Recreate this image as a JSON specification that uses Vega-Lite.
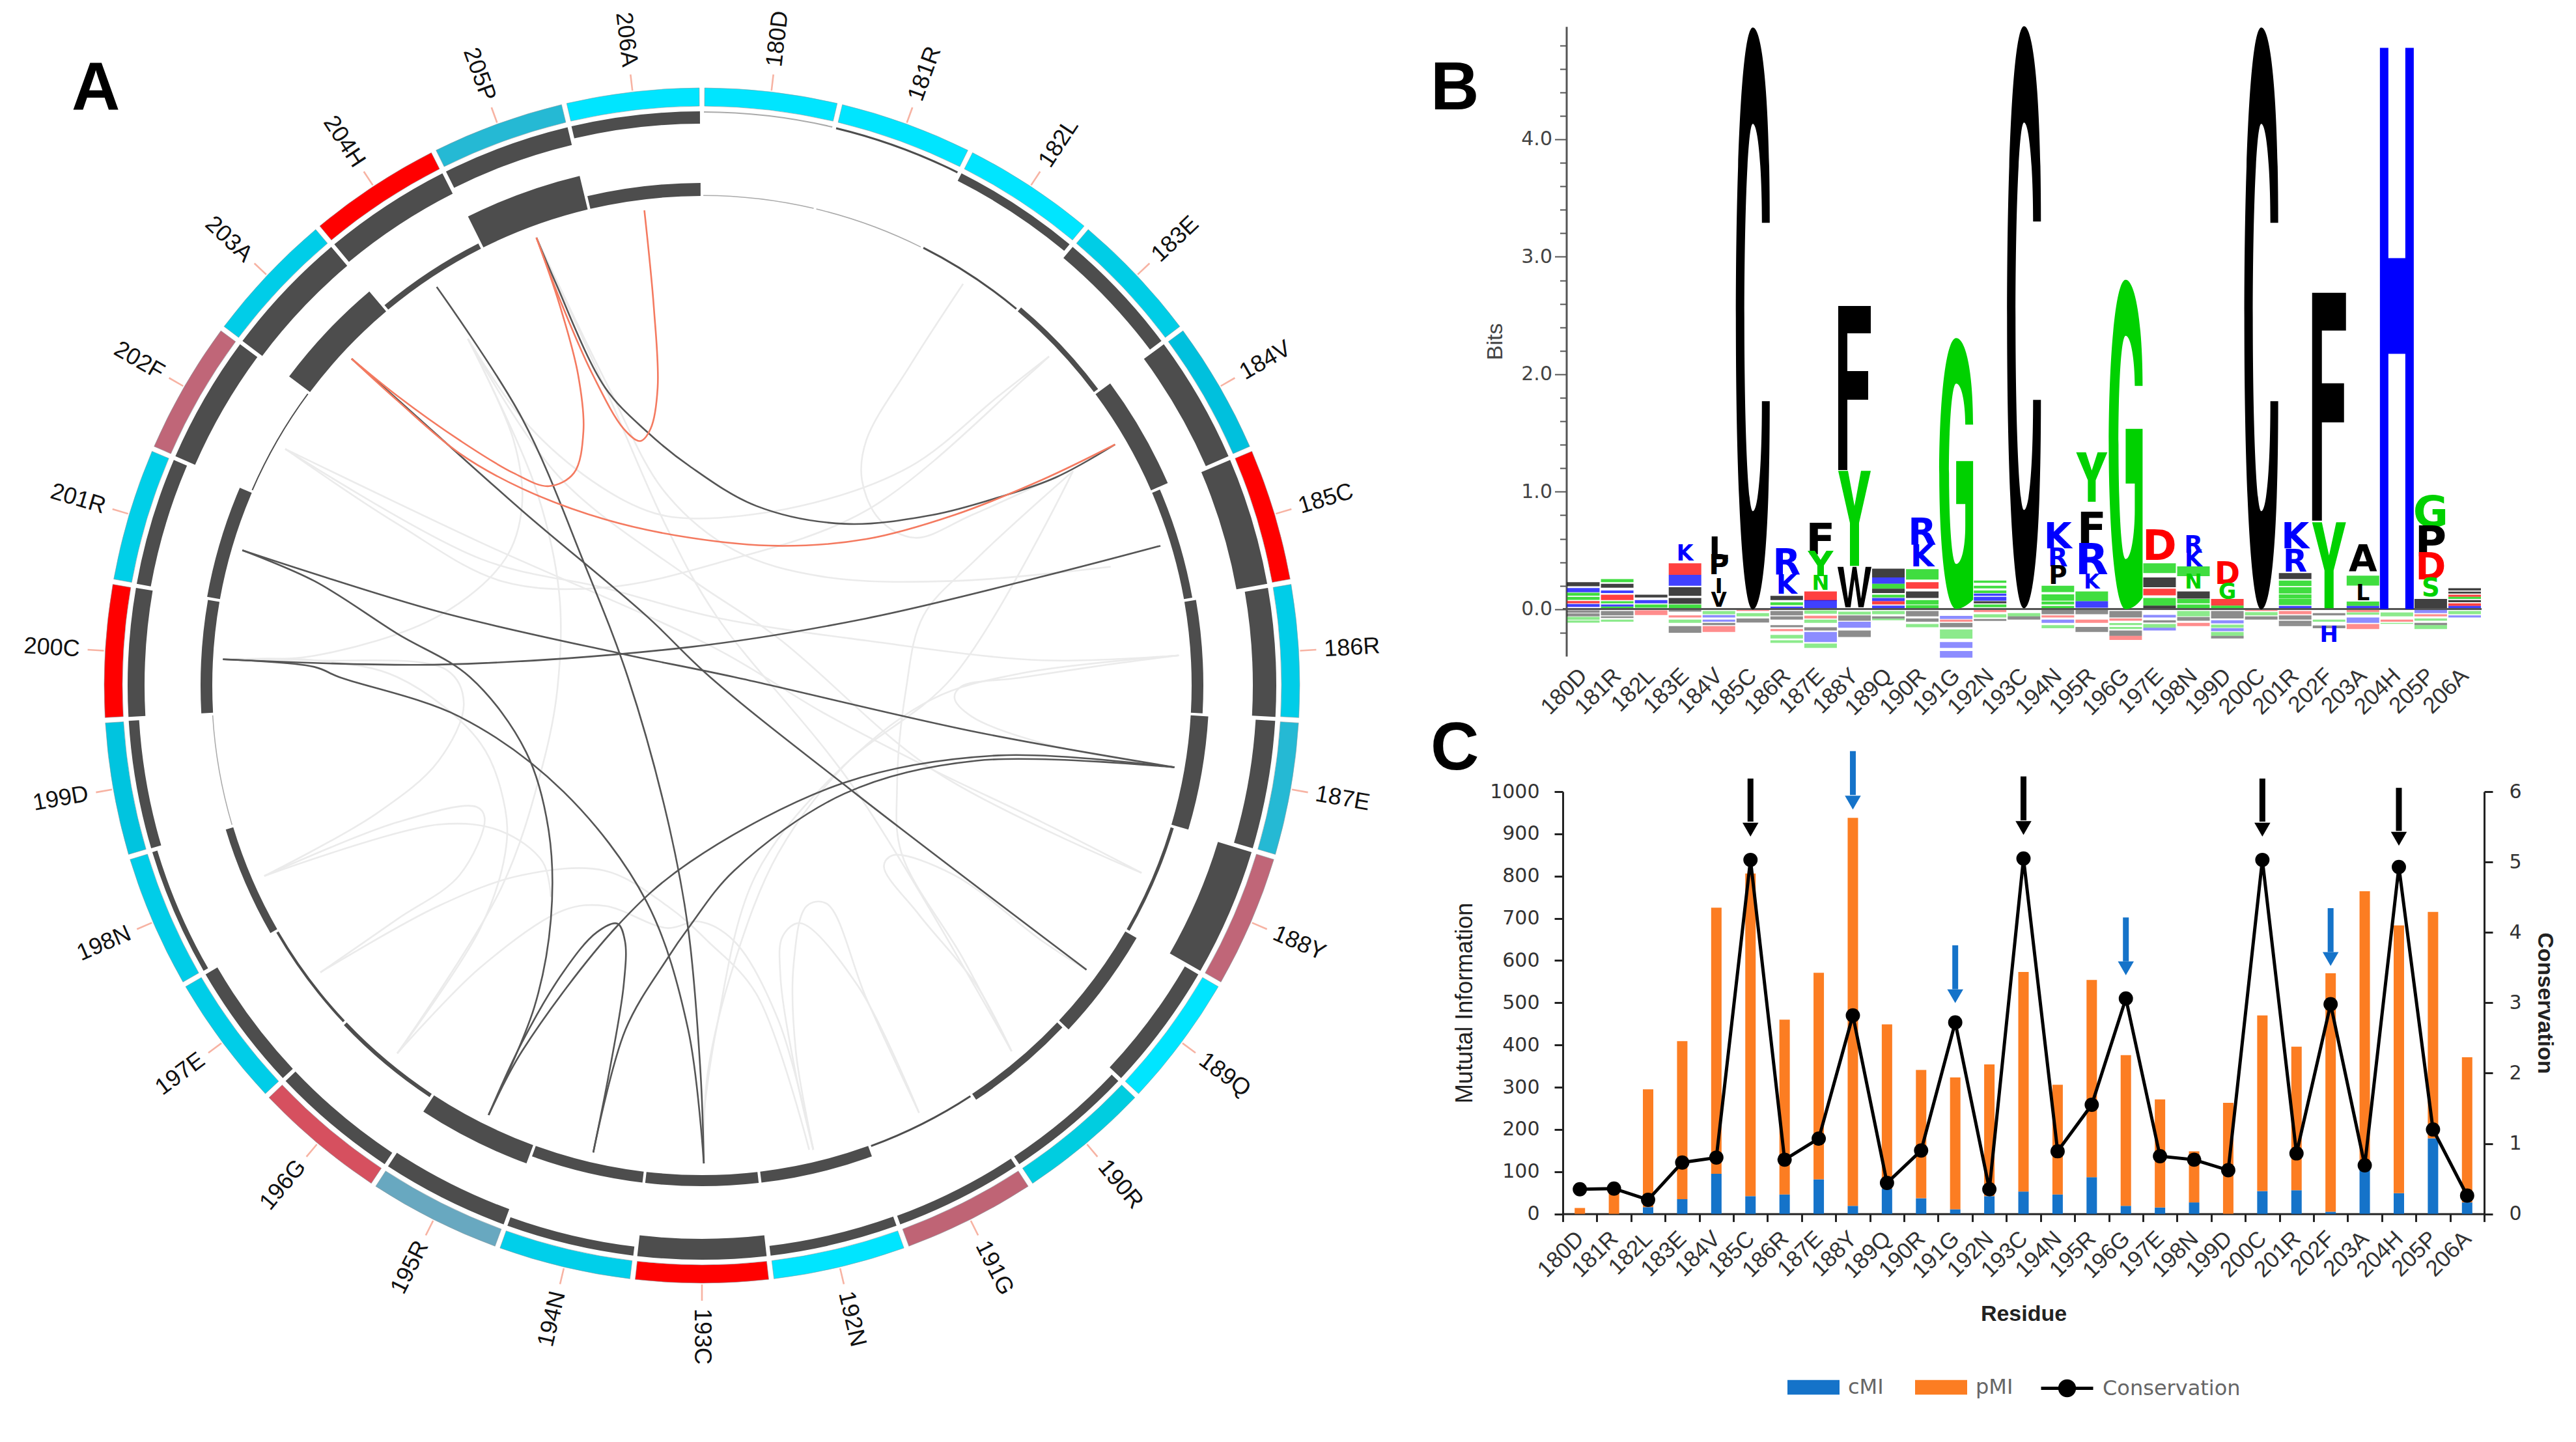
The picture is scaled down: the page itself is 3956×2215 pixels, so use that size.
{"$schema":"https://vega.github.io/schema/vega-lite/v6.json","padding":0,"background":"white","bounds":"flush","spacing":244,"resolve":{"scale":{"color":"independent","stroke":"independent","size":"independent","shape":"independent"},"legend":{"color":"independent","stroke":"independent"}},"config":{"view":{"stroke":null},"axis":{"grid":false,"labelOverlap":false,"labelBound":false,"labelFlush":false}},
"datasets":{
"rings":[{"res":"180D","idx":0,"r2":2,"r3":1.5},{"res":"181R","idx":1,"r2":3,"r3":1.5},{"res":"182L","idx":2,"r2":13,"r3":3},{"res":"183E","idx":3,"r2":22,"r3":8},{"res":"184V","idx":4,"r2":38,"r3":28},{"res":"185C","idx":5,"r2":48,"r3":13},{"res":"186R","idx":6,"r2":36,"r3":18},{"res":"187E","idx":7,"r2":30,"r3":27},{"res":"188Y","idx":8,"r2":54,"r3":5},{"res":"189Q","idx":9,"r2":24,"r3":20},{"res":"190R","idx":10,"r2":14,"r3":11},{"res":"191G","idx":11,"r2":14,"r3":3},{"res":"192N","idx":12,"r2":15,"r3":17},{"res":"193C","idx":13,"r2":32,"r3":17},{"res":"194N","idx":14,"r2":14,"r3":17},{"res":"195R","idx":15,"r2":25,"r3":30},{"res":"196G","idx":16,"r2":21,"r3":6},{"res":"197E","idx":17,"r2":21,"r3":4},{"res":"198N","idx":18,"r2":8,"r3":12},{"res":"199D","idx":19,"r2":16,"r3":1.5},{"res":"200C","idx":20,"r2":26,"r3":18},{"res":"201R","idx":21,"r2":22,"r3":20},{"res":"202F","idx":22,"r2":33,"r3":2},{"res":"203A","idx":23,"r2":38,"r3":40},{"res":"204H","idx":24,"r2":35,"r3":9},{"res":"205P","idx":25,"r2":28,"r3":53},{"res":"206A","idx":26,"r2":19,"r3":20}],
"chords":[
{"c":"G1","k":"g","i":0,"x":586.2,"y":172.8},{"c":"G1","k":"g","i":1,"x":554,"y":222.4},{"c":"G1","k":"g","i":2,"x":527.3,"y":268},{"c":"G1","k":"g","i":3,"x":524.6,"y":292},{"c":"G1","k":"g","i":4,"x":535.3,"y":316.2},{"c":"G1","k":"g","i":5,"x":556.8,"y":327.4},{"c":"G1","k":"g","i":6,"x":591.6,"y":313.5},{"c":"G1","k":"g","i":7,"x":650.5,"y":286.7},
{"c":"G2","k":"g","i":0,"x":638.5,"y":217},{"c":"G2","k":"g","i":1,"x":607.7,"y":241.2},{"c":"G2","k":"g","i":2,"x":554,"y":284},{"c":"G2","k":"g","i":3,"x":487.1,"y":308.1},{"c":"G2","k":"g","i":4,"x":420.1,"y":315.6},{"c":"G2","k":"g","i":5,"x":393.5,"y":310.8},{"c":"G2","k":"g","i":6,"x":355.6,"y":289.4},{"c":"G2","k":"g","i":7,"x":317.7,"y":254.6},{"c":"G2","k":"g","i":8,"x":284.8,"y":206.3},
{"c":"G3","k":"g","i":0,"x":173.6,"y":273.3},{"c":"G3","k":"g","i":1,"x":241.8,"y":318.9},{"c":"G3","k":"g","i":2,"x":305,"y":353.7},{"c":"G3","k":"g","i":3,"x":368.2,"y":357.7},{"c":"G3","k":"g","i":4,"x":436,"y":343},{"c":"G3","k":"g","i":5,"x":527.3,"y":310.8},{"c":"G3","k":"g","i":6,"x":623.7,"y":230.4},{"c":"G3","k":"g","i":7,"x":638.5,"y":217},
{"c":"G4","k":"g","i":0,"x":717.5,"y":399},{"c":"G4","k":"g","i":1,"x":634.5,"y":402},{"c":"G4","k":"g","i":2,"x":527.3,"y":390},{"c":"G4","k":"g","i":3,"x":436,"y":376},{"c":"G4","k":"g","i":4,"x":368,"y":358},{"c":"G4","k":"g","i":5,"x":292,"y":340},{"c":"G4","k":"g","i":6,"x":173.6,"y":273.3},
{"c":"G5","k":"g","i":0,"x":676,"y":345},{"c":"G5","k":"g","i":1,"x":580.9,"y":353.7},{"c":"G5","k":"g","i":2,"x":500.5,"y":351},{"c":"G5","k":"g","i":3,"x":447,"y":335},{"c":"G5","k":"g","i":4,"x":405,"y":300},{"c":"G5","k":"g","i":5,"x":370,"y":235},{"c":"G5","k":"g","i":6,"x":326.5,"y":144.7},
{"c":"G6","k":"g","i":0,"x":284.8,"y":206.3},{"c":"G6","k":"g","i":1,"x":312.6,"y":268},{"c":"G6","k":"g","i":2,"x":317.7,"y":308},{"c":"G6","k":"g","i":3,"x":307.5,"y":340.3},{"c":"G6","k":"g","i":4,"x":267,"y":375},{"c":"G6","k":"g","i":5,"x":191.3,"y":399.2},{"c":"G6","k":"g","i":6,"x":135.7,"y":401.4},
{"c":"G7","k":"g","i":0,"x":160.9,"y":533.3},{"c":"G7","k":"g","i":1,"x":229.2,"y":495.3},{"c":"G7","k":"g","i":2,"x":267,"y":463.1},{"c":"G7","k":"g","i":3,"x":282.3,"y":428.3},{"c":"G7","k":"g","i":4,"x":272,"y":408},{"c":"G7","k":"g","i":5,"x":191.3,"y":402},{"c":"G7","k":"g","i":6,"x":135.7,"y":401.4},
{"c":"G8","k":"g","i":0,"x":160.9,"y":533.3},{"c":"G8","k":"g","i":1,"x":241.8,"y":500.6},{"c":"G8","k":"g","i":2,"x":289.9,"y":491.2},{"c":"G8","k":"g","i":3,"x":295,"y":498},{"c":"G8","k":"g","i":4,"x":279.7,"y":532.8},{"c":"G8","k":"g","i":5,"x":241.8,"y":559.6},{"c":"G8","k":"g","i":6,"x":195,"y":592},
{"c":"G9","k":"g","i":0,"x":160.9,"y":533.3},{"c":"G9","k":"g","i":1,"x":267,"y":502},{"c":"G9","k":"g","i":2,"x":305,"y":506},{"c":"G9","k":"g","i":3,"x":330.3,"y":524.7},{"c":"G9","k":"g","i":4,"x":335.3,"y":546},
{"c":"G10","k":"g","i":0,"x":195,"y":592},{"c":"G10","k":"g","i":1,"x":267,"y":551.5},{"c":"G10","k":"g","i":2,"x":317.7,"y":532.8},{"c":"G10","k":"g","i":3,"x":368.2,"y":530.1},{"c":"G10","k":"g","i":4,"x":406.1,"y":551.5},{"c":"G10","k":"g","i":5,"x":430.8,"y":573},{"c":"G10","k":"g","i":6,"x":460.3,"y":605},{"c":"G10","k":"g","i":7,"x":492.5,"y":700},
{"c":"G11","k":"g","i":0,"x":241.8,"y":641.3},{"c":"G11","k":"g","i":1,"x":292.4,"y":589},{"c":"G11","k":"g","i":2,"x":343,"y":554.2},{"c":"G11","k":"g","i":3,"x":368.2,"y":551.5},{"c":"G11","k":"g","i":4,"x":406,"y":565},{"c":"G11","k":"g","i":5,"x":425.5,"y":561},{"c":"G11","k":"g","i":6,"x":446.9,"y":573},{"c":"G11","k":"g","i":7,"x":473.7,"y":621},{"c":"G11","k":"g","i":8,"x":495,"y":700},
{"c":"G12","k":"g","i":0,"x":241.8,"y":641.3},{"c":"G12","k":"g","i":1,"x":292.4,"y":565},{"c":"G12","k":"g","i":2,"x":307.5,"y":519.4},{"c":"G12","k":"g","i":3,"x":307.5,"y":492.6},{"c":"G12","k":"g","i":4,"x":292.4,"y":452.4},{"c":"G12","k":"g","i":5,"x":241.8,"y":412.2},{"c":"G12","k":"g","i":6,"x":191.3,"y":402},{"c":"G12","k":"g","i":7,"x":135.7,"y":401.4},
{"c":"G13","k":"g","i":0,"x":284.8,"y":206.3},{"c":"G13","k":"g","i":1,"x":325.2,"y":294.7},{"c":"G13","k":"g","i":2,"x":340.4,"y":361.7},{"c":"G13","k":"g","i":3,"x":339.2,"y":420},{"c":"G13","k":"g","i":4,"x":330.3,"y":465.8},{"c":"G13","k":"g","i":5,"x":305,"y":540.8},{"c":"G13","k":"g","i":6,"x":241.8,"y":641.3},
{"c":"G14","k":"g","i":0,"x":559.4,"y":677.5},{"c":"G14","k":"g","i":1,"x":527.3,"y":607.8},{"c":"G14","k":"g","i":2,"x":503.2,"y":550.2},{"c":"G14","k":"g","i":3,"x":491.1,"y":551.5},{"c":"G14","k":"g","i":4,"x":483.1,"y":586.4},{"c":"G14","k":"g","i":5,"x":484.4,"y":640},{"c":"G14","k":"g","i":6,"x":495.1,"y":700},
{"c":"G15","k":"g","i":0,"x":559.4,"y":677.5},{"c":"G15","k":"g","i":1,"x":522,"y":600},{"c":"G15","k":"g","i":2,"x":487,"y":562},{"c":"G15","k":"g","i":3,"x":476.4,"y":570},{"c":"G15","k":"g","i":4,"x":475,"y":594},{"c":"G15","k":"g","i":5,"x":484,"y":652},{"c":"G15","k":"g","i":6,"x":495,"y":700},
{"c":"G16","k":"g","i":0,"x":615.7,"y":640},{"c":"G16","k":"g","i":1,"x":594.3,"y":599.8},{"c":"G16","k":"g","i":2,"x":559.4,"y":556.9},{"c":"G16","k":"g","i":3,"x":538,"y":527.4},{"c":"G16","k":"g","i":4,"x":543.4,"y":520.7},{"c":"G16","k":"g","i":5,"x":580.9,"y":532.8},{"c":"G16","k":"g","i":6,"x":634.5,"y":573},{"c":"G16","k":"g","i":7,"x":661.3,"y":590.4},
{"c":"G17","k":"g","i":0,"x":615.7,"y":640},{"c":"G17","k":"g","i":1,"x":586.2,"y":583.7},{"c":"G17","k":"g","i":2,"x":548.7,"y":519.4},{"c":"G17","k":"g","i":3,"x":546,"y":479.2},{"c":"G17","k":"g","i":4,"x":551.4,"y":420},{"c":"G17","k":"g","i":5,"x":562,"y":375},{"c":"G17","k":"g","i":6,"x":594.3,"y":340.3},{"c":"G17","k":"g","i":7,"x":653.2,"y":286.7},
{"c":"G18","k":"g","i":0,"x":694.8,"y":531.4},{"c":"G18","k":"g","i":1,"x":634.5,"y":500.6},{"c":"G18","k":"g","i":2,"x":567.5,"y":468.5},{"c":"G18","k":"g","i":3,"x":500.5,"y":433.6},{"c":"G18","k":"g","i":4,"x":436,"y":395},{"c":"G18","k":"g","i":5,"x":292,"y":330},{"c":"G18","k":"g","i":6,"x":173.6,"y":273.3},
{"c":"G19","k":"g","i":0,"x":717.5,"y":399},{"c":"G19","k":"g","i":1,"x":674.6,"y":404.6},{"c":"G19","k":"g","i":2,"x":621,"y":412.6},{"c":"G19","k":"g","i":3,"x":585,"y":418},{"c":"G19","k":"g","i":4,"x":581,"y":425},{"c":"G19","k":"g","i":5,"x":591.6,"y":436.3},{"c":"G19","k":"g","i":6,"x":634.5,"y":452.4},{"c":"G19","k":"g","i":7,"x":700,"y":465},
{"c":"G20","k":"g","i":0,"x":717.5,"y":399},{"c":"G20","k":"g","i":1,"x":621,"y":410},{"c":"G20","k":"g","i":2,"x":567.5,"y":425.6},{"c":"G20","k":"g","i":3,"x":513.9,"y":465.8},{"c":"G20","k":"g","i":4,"x":460,"y":532.8},{"c":"G20","k":"g","i":5,"x":436,"y":626.6},{"c":"G20","k":"g","i":6,"x":428.1,"y":680},
{"c":"G21","k":"g","i":0,"x":284.8,"y":206.3},{"c":"G21","k":"g","i":1,"x":340,"y":290},{"c":"G21","k":"g","i":2,"x":420,"y":352},{"c":"G21","k":"g","i":3,"x":473.7,"y":388.5},{"c":"G21","k":"g","i":4,"x":570,"y":470},{"c":"G21","k":"g","i":5,"x":694.8,"y":531.4},
{"c":"G22","k":"g","i":0,"x":326.5,"y":144.7},{"c":"G22","k":"g","i":1,"x":368.2,"y":235.8},{"c":"G22","k":"g","i":2,"x":406,"y":321.5},{"c":"G22","k":"g","i":3,"x":436,"y":375},{"c":"G22","k":"g","i":4,"x":520,"y":480},{"c":"G22","k":"g","i":5,"x":615.7,"y":640},
{"c":"G23","k":"g","i":0,"x":428,"y":707},{"c":"G23","k":"g","i":1,"x":430.8,"y":653},{"c":"G23","k":"g","i":2,"x":446.9,"y":586.4},{"c":"G23","k":"g","i":3,"x":473.7,"y":519.4},{"c":"G23","k":"g","i":4,"x":513.9,"y":466},{"c":"G23","k":"g","i":5,"x":580,"y":412},{"c":"G23","k":"g","i":6,"x":653,"y":287},
{"c":"D1","k":"d","i":0,"x":326.5,"y":144.7},{"c":"D1","k":"d","i":1,"x":337.9,"y":171.5},{"c":"D1","k":"d","i":2,"x":368.2,"y":235.8},{"c":"D1","k":"d","i":3,"x":393.5,"y":262.6},{"c":"D1","k":"d","i":4,"x":420,"y":284},{"c":"D1","k":"d","i":5,"x":460.3,"y":308},{"c":"D1","k":"d","i":6,"x":513.9,"y":318.9},{"c":"D1","k":"d","i":7,"x":567.5,"y":313.5},{"c":"D1","k":"d","i":8,"x":607.7,"y":302.8},{"c":"D1","k":"d","i":9,"x":642.5,"y":290.7},{"c":"D1","k":"d","i":10,"x":678.7,"y":270.6},
{"c":"D2","k":"d","i":0,"x":265.8,"y":174.7},{"c":"D2","k":"d","i":1,"x":317.7,"y":254.6},{"c":"D2","k":"d","i":2,"x":355.6,"y":343},{"c":"D2","k":"d","i":3,"x":382.1,"y":412.2},{"c":"D2","k":"d","i":4,"x":406.1,"y":498},{"c":"D2","k":"d","i":5,"x":418.8,"y":565},{"c":"D2","k":"d","i":6,"x":426.4,"y":653.4},{"c":"D2","k":"d","i":7,"x":428.4,"y":708.3},
{"c":"D3","k":"d","i":0,"x":214,"y":218.4},{"c":"D3","k":"d","i":1,"x":241.8,"y":243},{"c":"D3","k":"d","i":2,"x":317.7,"y":310.8},{"c":"D3","k":"d","i":3,"x":393.5,"y":375},{"c":"D3","k":"d","i":4,"x":432.2,"y":412.2},{"c":"D3","k":"d","i":5,"x":519.2,"y":481.9},{"c":"D3","k":"d","i":6,"x":661.3,"y":590.4},
{"c":"D4","k":"d","i":0,"x":135.7,"y":401.4},{"c":"D4","k":"d","i":1,"x":267,"y":404.6},{"c":"D4","k":"d","i":2,"x":420,"y":393.9},{"c":"D4","k":"d","i":3,"x":527.3,"y":376.5},{"c":"D4","k":"d","i":4,"x":634.5,"y":351},{"c":"D4","k":"d","i":5,"x":706.3,"y":332.3},
{"c":"D5","k":"d","i":0,"x":135.7,"y":401.4},{"c":"D5","k":"d","i":1,"x":191.3,"y":406},{"c":"D5","k":"d","i":2,"x":206.4,"y":412.2},{"c":"D5","k":"d","i":3,"x":279.7,"y":436.3},{"c":"D5","k":"d","i":4,"x":342.9,"y":481.9},{"c":"D5","k":"d","i":5,"x":393.5,"y":548.9},{"c":"D5","k":"d","i":6,"x":418.8,"y":626.6},{"c":"D5","k":"d","i":7,"x":428.4,"y":708.3},
{"c":"D6","k":"d","i":0,"x":147.5,"y":335},{"c":"D6","k":"d","i":1,"x":267,"y":372.4},{"c":"D6","k":"d","i":2,"x":378.3,"y":398},{"c":"D6","k":"d","i":3,"x":446.9,"y":412.2},{"c":"D6","k":"d","i":4,"x":594.3,"y":445.7},{"c":"D6","k":"d","i":5,"x":714.8,"y":467.1},
{"c":"D7","k":"d","i":0,"x":147.5,"y":335},{"c":"D7","k":"d","i":1,"x":191.3,"y":353.7},{"c":"D7","k":"d","i":2,"x":241.8,"y":385.8},{"c":"D7","k":"d","i":3,"x":286,"y":412.2},{"c":"D7","k":"d","i":4,"x":320.2,"y":457.8},{"c":"D7","k":"d","i":5,"x":334,"y":506},{"c":"D7","k":"d","i":6,"x":335.3,"y":559.6},{"c":"D7","k":"d","i":7,"x":325.2,"y":613.2},{"c":"D7","k":"d","i":8,"x":297.4,"y":678.8},
{"c":"D8","k":"d","i":0,"x":297.4,"y":678.8},{"c":"D8","k":"d","i":1,"x":317.7,"y":634.6},{"c":"D8","k":"d","i":2,"x":342.9,"y":591.7},{"c":"D8","k":"d","i":3,"x":363.2,"y":567.6},{"c":"D8","k":"d","i":4,"x":375.8,"y":562.3},{"c":"D8","k":"d","i":5,"x":380.4,"y":573},{"c":"D8","k":"d","i":6,"x":379.6,"y":599.8},{"c":"D8","k":"d","i":7,"x":370.7,"y":653.4},{"c":"D8","k":"d","i":8,"x":361.1,"y":701.6},
{"c":"D9","k":"d","i":0,"x":297.4,"y":678.8},{"c":"D9","k":"d","i":1,"x":317.7,"y":640},{"c":"D9","k":"d","i":2,"x":375.8,"y":563.6},{"c":"D9","k":"d","i":3,"x":420.1,"y":524.7},{"c":"D9","k":"d","i":4,"x":513.9,"y":476.5},{"c":"D9","k":"d","i":5,"x":607.7,"y":459.9},{"c":"D9","k":"d","i":6,"x":714.8,"y":467.1},
{"c":"D10","k":"d","i":0,"x":361.1,"y":701.6},{"c":"D10","k":"d","i":1,"x":380.8,"y":626.6},{"c":"D10","k":"d","i":2,"x":406.1,"y":583.7},{"c":"D10","k":"d","i":3,"x":420,"y":563.6},{"c":"D10","k":"d","i":4,"x":446.9,"y":530},{"c":"D10","k":"d","i":5,"x":513.9,"y":483.2},{"c":"D10","k":"d","i":6,"x":594.3,"y":463.1},{"c":"D10","k":"d","i":7,"x":714.8,"y":467.1},
{"c":"R1","k":"r","i":0,"x":392.2,"y":128.1},{"c":"R1","k":"r","i":1,"x":398,"y":187.6},{"c":"R1","k":"r","i":2,"x":400.3,"y":235.8},{"c":"R1","k":"r","i":3,"x":396,"y":261},{"c":"R1","k":"r","i":4,"x":389.7,"y":268.5},{"c":"R1","k":"r","i":5,"x":379.6,"y":261},{"c":"R1","k":"r","i":6,"x":360.6,"y":227.8},{"c":"R1","k":"r","i":7,"x":342.9,"y":187.6},{"c":"R1","k":"r","i":8,"x":326.5,"y":144.7},
{"c":"R2","k":"r","i":0,"x":326.5,"y":144.7},{"c":"R2","k":"r","i":1,"x":340.4,"y":184.9},{"c":"R2","k":"r","i":2,"x":351.8,"y":227.8},{"c":"R2","k":"r","i":3,"x":355.1,"y":262.6},{"c":"R2","k":"r","i":4,"x":349.3,"y":288},{"c":"R2","k":"r","i":5,"x":334.1,"y":296},{"c":"R2","k":"r","i":6,"x":312.6,"y":288},{"c":"R2","k":"r","i":7,"x":279.7,"y":268},{"c":"R2","k":"r","i":8,"x":241.8,"y":241},{"c":"R2","k":"r","i":9,"x":214,"y":218.4},
{"c":"R3","k":"r","i":0,"x":214,"y":218.4},{"c":"R3","k":"r","i":1,"x":241.8,"y":243.8},{"c":"R3","k":"r","i":2,"x":279.7,"y":276},{"c":"R3","k":"r","i":3,"x":317.7,"y":297.4},{"c":"R3","k":"r","i":4,"x":368.2,"y":316.2},{"c":"R3","k":"r","i":5,"x":420.1,"y":327.4},{"c":"R3","k":"r","i":6,"x":473.7,"y":332.3},{"c":"R3","k":"r","i":7,"x":527.3,"y":328.2},{"c":"R3","k":"r","i":8,"x":580.9,"y":313.5},{"c":"R3","k":"r","i":9,"x":634.5,"y":292},{"c":"R3","k":"r","i":10,"x":678.7,"y":270.6}
],
"logo":[
{"res":"180D","l":"L","y0":0.195,"y1":0.23},{"res":"180D","l":"K","y0":0.145,"y1":0.18},{"res":"180D","l":"S","y0":0.115,"y1":0.14},{"res":"180D","l":"N","y0":0.08,"y1":0.105},{"res":"180D","l":"E","y0":0.05,"y1":0.07},{"res":"180D","l":"H","y0":0.02,"y1":0.045},{"res":"180D","l":"A","y0":-0.03,"y1":-0.01},{"res":"180D","l":"M","y0":-0.06,"y1":-0.035},{"res":"180D","l":"N","y0":-0.09,"y1":-0.065},{"res":"180D","l":"S","y0":-0.115,"y1":-0.095},
{"res":"181R","l":"G","y0":0.231,"y1":0.257},{"res":"181R","l":"L","y0":0.183,"y1":0.216},{"res":"181R","l":"K","y0":0.138,"y1":0.16},{"res":"181R","l":"E","y0":0.078,"y1":0.124},{"res":"181R","l":"S","y0":0.05,"y1":0.068},{"res":"181R","l":"H","y0":0.022,"y1":0.04},{"res":"181R","l":"N","y0":0,"y1":0.022},{"res":"181R","l":"A","y0":-0.052,"y1":-0.015},{"res":"181R","l":"V","y0":-0.075,"y1":-0.06},{"res":"181R","l":"G","y0":-0.107,"y1":-0.089},
{"res":"182L","l":"L","y0":0.1,"y1":0.124},{"res":"182L","l":"K","y0":0.05,"y1":0.078},{"res":"182L","l":"S","y0":0.013,"y1":0.04},{"res":"182L","l":"E","y0":-0.05,"y1":-0.01},
{"res":"183E","l":"K","y0":0.415,"y1":0.526},{"res":"183E","l":"E","y0":0.293,"y1":0.391},{"res":"183E","l":"R","y0":0.2,"y1":0.293},{"res":"183E","l":"P","y0":0.114,"y1":0.188},{"res":"183E","l":"V","y0":0.046,"y1":0.096},{"res":"183E","l":"G","y0":0.004,"y1":0.04},{"res":"183E","l":"A","y0":-0.02,"y1":-0.005},{"res":"183E","l":"E","y0":-0.07,"y1":-0.052},{"res":"183E","l":"N","y0":-0.116,"y1":-0.089},{"res":"183E","l":"A","y0":-0.2,"y1":-0.144},
{"res":"184V","l":"L","y0":0.428,"y1":0.589},{"res":"184V","l":"P","y0":0.299,"y1":0.441},{"res":"184V","l":"I","y0":0.138,"y1":0.244},{"res":"184V","l":"V","y0":0.022,"y1":0.127},{"res":"184V","l":"N","y0":-0.042,"y1":-0.015},{"res":"184V","l":"K","y0":-0.07,"y1":-0.05},{"res":"184V","l":"K","y0":-0.107,"y1":-0.089},{"res":"184V","l":"A","y0":-0.135,"y1":-0.116},{"res":"184V","l":"E","y0":-0.194,"y1":-0.144},
{"res":"185C","l":"C","y0":0,"y1":4.95,"g":"C"},{"res":"185C","l":"E","y0":-0.015,"y1":0},{"res":"185C","l":"N","y0":-0.061,"y1":-0.033},{"res":"185C","l":"A","y0":-0.113,"y1":-0.079},
{"res":"186R","l":"R","y0":0.299,"y1":0.484},{"res":"186R","l":"K","y0":0.133,"y1":0.271},{"res":"186R","l":"F","y0":0.078,"y1":0.114},{"res":"186R","l":"S","y0":0.035,"y1":0.059},{"res":"186R","l":"H","y0":0,"y1":0.022},{"res":"186R","l":"A","y0":-0.052,"y1":-0.015},{"res":"186R","l":"L","y0":-0.089,"y1":-0.061},{"res":"186R","l":"A","y0":-0.153,"y1":-0.135},{"res":"186R","l":"E","y0":-0.186,"y1":-0.168},{"res":"186R","l":"N","y0":-0.249,"y1":-0.218},{"res":"186R","l":"G","y0":-0.286,"y1":-0.264},
{"res":"187E","l":"F","y0":0.471,"y1":0.736},{"res":"187E","l":"Y","y0":0.281,"y1":0.46},{"res":"187E","l":"N","y0":0.164,"y1":0.271},{"res":"187E","l":"D","y0":0.072,"y1":0.151},{"res":"187E","l":"H","y0":0,"y1":0.078},{"res":"187E","l":"G","y0":-0.039,"y1":-0.011},{"res":"187E","l":"E","y0":-0.079,"y1":-0.055},{"res":"187E","l":"N","y0":-0.116,"y1":-0.089},{"res":"187E","l":"A","y0":-0.181,"y1":-0.153},{"res":"187E","l":"R","y0":-0.279,"y1":-0.194},{"res":"187E","l":"G","y0":-0.329,"y1":-0.292},
{"res":"188Y","l":"F","y0":1.185,"y1":2.58,"g":"F1"},{"res":"188Y","l":"Y","y0":0.369,"y1":1.177,"g":"Y1"},{"res":"188Y","l":"W","y0":0.013,"y1":0.364,"g":"W"},{"res":"188Y","l":"N","y0":-0.045,"y1":-0.02},{"res":"188Y","l":"A","y0":-0.098,"y1":-0.052},{"res":"188Y","l":"H","y0":-0.157,"y1":-0.107},{"res":"188Y","l":"L","y0":-0.236,"y1":-0.181},
{"res":"189Q","l":"L","y0":0.271,"y1":0.345},{"res":"189Q","l":"K","y0":0.216,"y1":0.271},{"res":"189Q","l":"Q","y0":0.175,"y1":0.216},{"res":"189Q","l":"M","y0":0.138,"y1":0.175},{"res":"189Q","l":"S","y0":0.1,"y1":0.124},{"res":"189Q","l":"K","y0":0.068,"y1":0.096},{"res":"189Q","l":"E","y0":0.04,"y1":0.068},{"res":"189Q","l":"H","y0":0.004,"y1":0.031},{"res":"189Q","l":"G","y0":-0.042,"y1":-0.015},{"res":"189Q","l":"A","y0":-0.08,"y1":-0.061},{"res":"189Q","l":"N","y0":-0.094,"y1":-0.08},
{"res":"190R","l":"R","y0":0.548,"y1":0.736},{"res":"190R","l":"K","y0":0.364,"y1":0.52},{"res":"190R","l":"Q","y0":0.253,"y1":0.341},{"res":"190R","l":"E","y0":0.175,"y1":0.231},{"res":"190R","l":"A","y0":0.096,"y1":0.151},{"res":"190R","l":"S","y0":0.04,"y1":0.078},{"res":"190R","l":"N","y0":0.004,"y1":0.035},{"res":"190R","l":"A","y0":-0.06,"y1":-0.015},{"res":"190R","l":"L","y0":-0.107,"y1":-0.079},{"res":"190R","l":"G","y0":-0.153,"y1":-0.126},
{"res":"191G","l":"G","y0":0,"y1":2.31,"g":"G1"},{"res":"191G","l":"K","y0":-0.083,"y1":-0.057},{"res":"191G","l":"E","y0":-0.107,"y1":-0.089},{"res":"191G","l":"A","y0":-0.153,"y1":-0.116},{"res":"191G","l":"N","y0":-0.251,"y1":-0.172},{"res":"191G","l":"R","y0":-0.329,"y1":-0.279},{"res":"191G","l":"K","y0":-0.412,"y1":-0.356},
{"res":"192N","l":"G","y0":0.225,"y1":0.244},{"res":"192N","l":"S","y0":0.178,"y1":0.2},{"res":"192N","l":"N","y0":0.138,"y1":0.16},{"res":"192N","l":"K","y0":0.114,"y1":0.133},{"res":"192N","l":"H","y0":0.072,"y1":0.105},{"res":"192N","l":"L","y0":0.05,"y1":0.068},{"res":"192N","l":"S","y0":0.017,"y1":0.04},{"res":"192N","l":"E","y0":-0.025,"y1":-0.006},{"res":"192N","l":"N","y0":-0.07,"y1":-0.042},{"res":"192N","l":"A","y0":-0.1,"y1":-0.083},
{"res":"193C","l":"C","y0":0,"y1":4.97,"g":"C"},{"res":"193C","l":"G","y0":-0.061,"y1":-0.033},{"res":"193C","l":"A","y0":-0.089,"y1":-0.061},
{"res":"194N","l":"K","y0":0.52,"y1":0.705},{"res":"194N","l":"R","y0":0.364,"y1":0.496},{"res":"194N","l":"P","y0":0.216,"y1":0.345},{"res":"194N","l":"S","y0":0.146,"y1":0.2},{"res":"194N","l":"N","y0":0.072,"y1":0.127},{"res":"194N","l":"T","y0":0.04,"y1":0.065},{"res":"194N","l":"G","y0":0,"y1":0.028},{"res":"194N","l":"L","y0":-0.042,"y1":-0.006},{"res":"194N","l":"E","y0":-0.07,"y1":-0.052},{"res":"194N","l":"K","y0":-0.116,"y1":-0.089},{"res":"194N","l":"G","y0":-0.162,"y1":-0.135},
{"res":"195R","l":"Y","y0":0.91,"y1":1.34,"g":"Y3"},{"res":"195R","l":"F","y0":0.563,"y1":0.9},{"res":"195R","l":"R","y0":0.299,"y1":0.566},{"res":"195R","l":"K","y0":0.175,"y1":0.28},{"res":"195R","l":"N","y0":0.068,"y1":0.151},{"res":"195R","l":"H","y0":0.013,"y1":0.068},{"res":"195R","l":"A","y0":-0.042,"y1":-0.006},{"res":"195R","l":"E","y0":-0.116,"y1":-0.089},{"res":"195R","l":"L","y0":-0.194,"y1":-0.15},
{"res":"196G","l":"G","y0":0,"y1":2.805,"g":"G2"},{"res":"196G","l":"A","y0":-0.07,"y1":-0.015},{"res":"196G","l":"E","y0":-0.098,"y1":-0.079},{"res":"196G","l":"N","y0":-0.135,"y1":-0.118},{"res":"196G","l":"S","y0":-0.168,"y1":-0.15},{"res":"196G","l":"A","y0":-0.227,"y1":-0.181},{"res":"196G","l":"E","y0":-0.262,"y1":-0.227},
{"res":"197E","l":"D","y0":0.419,"y1":0.631},{"res":"197E","l":"S","y0":0.308,"y1":0.391},{"res":"197E","l":"A","y0":0.188,"y1":0.271},{"res":"197E","l":"E","y0":0.118,"y1":0.175},{"res":"197E","l":"N","y0":0.031,"y1":0.096},{"res":"197E","l":"L","y0":0,"y1":0.031},{"res":"197E","l":"K","y0":-0.07,"y1":-0.048},{"res":"197E","l":"L","y0":-0.113,"y1":-0.094},{"res":"197E","l":"N","y0":-0.157,"y1":-0.126},{"res":"197E","l":"K","y0":-0.181,"y1":-0.157},
{"res":"198N","l":"R","y0":0.48,"y1":0.604},{"res":"198N","l":"K","y0":0.364,"y1":0.48},{"res":"198N","l":"S","y0":0.281,"y1":0.364},{"res":"198N","l":"N","y0":0.175,"y1":0.281},{"res":"198N","l":"A","y0":0.09,"y1":0.151},{"res":"198N","l":"T","y0":0.05,"y1":0.087},{"res":"198N","l":"G","y0":0,"y1":0.04},{"res":"198N","l":"N","y0":-0.061,"y1":-0.015},{"res":"198N","l":"L","y0":-0.098,"y1":-0.066},{"res":"198N","l":"E","y0":-0.144,"y1":-0.116},
{"res":"199D","l":"D","y0":0.216,"y1":0.373},{"res":"199D","l":"G","y0":0.09,"y1":0.201},{"res":"199D","l":"E","y0":0.031,"y1":0.087},{"res":"199D","l":"N","y0":0,"y1":0.031},{"res":"199D","l":"A","y0":-0.079,"y1":-0.015},{"res":"199D","l":"K","y0":-0.12,"y1":-0.094},{"res":"199D","l":"G","y0":-0.157,"y1":-0.131},{"res":"199D","l":"H","y0":-0.186,"y1":-0.162},{"res":"199D","l":"N","y0":-0.227,"y1":-0.194},{"res":"199D","l":"A","y0":-0.249,"y1":-0.227},
{"res":"200C","l":"C","y0":0,"y1":4.95,"g":"C"},{"res":"200C","l":"E","y0":-0.015,"y1":0},{"res":"200C","l":"N","y0":-0.052,"y1":-0.024},{"res":"200C","l":"A","y0":-0.089,"y1":-0.061},
{"res":"201R","l":"K","y0":0.52,"y1":0.705},{"res":"201R","l":"R","y0":0.323,"y1":0.484},{"res":"201R","l":"P","y0":0.257,"y1":0.308},{"res":"201R","l":"S","y0":0.197,"y1":0.244},{"res":"201R","l":"S","y0":0.133,"y1":0.188},{"res":"201R","l":"T","y0":0.09,"y1":0.127},{"res":"201R","l":"N","y0":0.035,"y1":0.087},{"res":"201R","l":"H","y0":0.004,"y1":0.028},{"res":"201R","l":"E","y0":-0.042,"y1":-0.015},{"res":"201R","l":"A","y0":-0.089,"y1":-0.052},{"res":"201R","l":"L","y0":-0.126,"y1":-0.098},{"res":"201R","l":"A","y0":-0.144,"y1":-0.126},
{"res":"202F","l":"F","y0":0.758,"y1":2.69,"g":"F2"},{"res":"202F","l":"Y","y0":0.01,"y1":0.738,"g":"Y2"},{"res":"202F","l":"A","y0":-0.052,"y1":-0.033},{"res":"202F","l":"N","y0":-0.107,"y1":-0.089},{"res":"202F","l":"L","y0":-0.162,"y1":-0.138},{"res":"202F","l":"H","y0":-0.279,"y1":-0.166},
{"res":"203A","l":"A","y0":0.323,"y1":0.511},{"res":"203A","l":"S","y0":0.201,"y1":0.286},{"res":"203A","l":"L","y0":0.078,"y1":0.188},{"res":"203A","l":"N","y0":0.028,"y1":0.065},{"res":"203A","l":"H","y0":0,"y1":0.028},{"res":"203A","l":"E","y0":-0.025,"y1":-0.006},{"res":"203A","l":"G","y0":-0.047,"y1":-0.028},{"res":"203A","l":"K","y0":-0.116,"y1":-0.07},{"res":"203A","l":"E","y0":-0.168,"y1":-0.126},
{"res":"204H","l":"H","y0":0,"y1":4.78,"g":"H"},{"res":"204H","l":"N","y0":-0.061,"y1":-0.028},{"res":"204H","l":"E","y0":-0.107,"y1":-0.089},{"res":"204H","l":"G","y0":-0.125,"y1":-0.116},
{"res":"205P","l":"G","y0":0.7,"y1":1.03},{"res":"205P","l":"P","y0":0.447,"y1":0.677},{"res":"205P","l":"D","y0":0.253,"y1":0.441},{"res":"205P","l":"S","y0":0.111,"y1":0.24},{"res":"205P","l":"V","y0":0,"y1":0.087},{"res":"205P","l":"K","y0":-0.033,"y1":-0.006},{"res":"205P","l":"E","y0":-0.061,"y1":-0.042},{"res":"205P","l":"G","y0":-0.098,"y1":-0.079},{"res":"205P","l":"L","y0":-0.135,"y1":-0.116},{"res":"205P","l":"N","y0":-0.168,"y1":-0.135},
{"res":"206A","l":"A","y0":0.16,"y1":0.179},{"res":"206A","l":"L","y0":0.133,"y1":0.15},{"res":"206A","l":"E","y0":0.105,"y1":0.124},{"res":"206A","l":"G","y0":0.087,"y1":0.105},{"res":"206A","l":"A","y0":0.06,"y1":0.078},{"res":"206A","l":"E","y0":0.028,"y1":0.05},{"res":"206A","l":"K","y0":0,"y1":0.028},{"res":"206A","l":"G","y0":-0.042,"y1":-0.015},{"res":"206A","l":"K","y0":-0.07,"y1":-0.052}
],
"mi":[{"res":"180D","cMI":0,"pMI":14,"cons":0.35},{"res":"181R","cMI":0,"pMI":50,"cons":0.36},{"res":"182L","cMI":16,"pMI":279,"cons":0.2},{"res":"183E","cMI":35,"pMI":374,"cons":0.73},{"res":"184V","cMI":95,"pMI":630,"cons":0.8},{"res":"185C","cMI":42,"pMI":764,"cons":5.03},{"res":"186R","cMI":46,"pMI":414,"cons":0.77},{"res":"187E","cMI":82,"pMI":489,"cons":1.07},{"res":"188Y","cMI":19,"pMI":919,"cons":2.82},{"res":"189Q","cMI":60,"pMI":389,"cons":0.44},{"res":"190R","cMI":37,"pMI":304,"cons":0.9},{"res":"191G","cMI":11,"pMI":312,"cons":2.72},{"res":"192N","cMI":42,"pMI":312,"cons":0.35},{"res":"193C","cMI":53,"pMI":520,"cons":5.05},{"res":"194N","cMI":46,"pMI":260,"cons":0.89},{"res":"195R","cMI":87,"pMI":467,"cons":1.55},{"res":"196G","cMI":19,"pMI":357,"cons":3.06},{"res":"197E","cMI":15,"pMI":256,"cons":0.82},{"res":"198N","cMI":27,"pMI":121,"cons":0.77},{"res":"199D","cMI":0,"pMI":263,"cons":0.62},{"res":"200C","cMI":54,"pMI":416,"cons":5.03},{"res":"201R","cMI":56,"pMI":340,"cons":0.86},{"res":"202F","cMI":5,"pMI":565,"cons":2.98},{"res":"203A","cMI":105,"pMI":659,"cons":0.69},{"res":"204H","cMI":49,"pMI":634,"cons":4.93},{"res":"205P","cMI":179,"pMI":536,"cons":1.2},{"res":"206A","cMI":27,"pMI":344,"cons":0.26}],
"arrows":[{"res":"185C","kind":"conserved","top":1031,"base":929,"tip":891},{"res":"188Y","kind":"coevolving","top":1096,"base":992,"tip":956},{"res":"191G","kind":"coevolving","top":636,"base":532,"tip":499},{"res":"193C","kind":"conserved","top":1036,"base":932,"tip":896},{"res":"196G","kind":"coevolving","top":702,"base":598,"tip":565},{"res":"200C","kind":"conserved","top":1031,"base":929,"tip":891},{"res":"202F","kind":"coevolving","top":724,"base":620,"tip":587},{"res":"204H","kind":"conserved","top":1009,"base":907,"tip":870}]
},
"hconcat":[
{"width":2156,"height":2106,
"title":{"text":"A","anchor":"start","frame":"group","dx":110,"dy":271,"offset":0,"baseline":"alphabetic","font":"Liberation Sans","fontWeight":"bold","fontSize":103,"color":"#000"},
"layer":[
{"data":{"name":"chords"},"transform":[{"filter":"datum.k==='g'"}],"mark":{"type":"line","interpolate":"catmull-rom","stroke":"#ebebeb","strokeWidth":2.6},"encoding":{"x":{"field":"x","type":"quantitative","scale":{"domain":[0,854.5],"nice":false,"zero":false},"axis":null},"y":{"field":"y","type":"quantitative","scale":{"domain":[834.7,0],"nice":false,"zero":false},"axis":null},"detail":{"field":"c"},"order":{"field":"i","type":"quantitative"}}},
{"data":{"name":"chords"},"transform":[{"filter":"datum.k==='d'"}],"mark":{"type":"line","interpolate":"catmull-rom","stroke":"#555555","strokeWidth":2.6},"encoding":{"x":{"field":"x","type":"quantitative","scale":{"domain":[0,854.5],"nice":false,"zero":false},"axis":null},"y":{"field":"y","type":"quantitative","scale":{"domain":[834.7,0],"nice":false,"zero":false},"axis":null},"detail":{"field":"c"},"order":{"field":"i","type":"quantitative"}}},
{"data":{"name":"chords"},"transform":[{"filter":"datum.k==='r'"}],"mark":{"type":"line","interpolate":"catmull-rom","stroke":"#f47a60","strokeWidth":2.6},"encoding":{"x":{"field":"x","type":"quantitative","scale":{"domain":[0,854.5],"nice":false,"zero":false},"axis":null},"y":{"field":"y","type":"quantitative","scale":{"domain":[834.7,0],"nice":false,"zero":false},"axis":null},"detail":{"field":"c"},"order":{"field":"i","type":"quantitative"}}},
{"data":{"name":"rings"},"transform":[{"calculate":"datum.idx+0.019","as":"t0"},{"calculate":"datum.idx+0.981","as":"t1"},{"calculate":"918","as":"ro"},{"calculate":"890","as":"ri"}],"mark":{"type":"arc","stroke":"#8a9aa0","strokeWidth":0.6},"encoding":{"theta":{"field":"t0","type":"quantitative","stack":null,"scale":{"domain":[0,27],"range":[0,6.283185]}},"theta2":{"field":"t1"},"radius":{"field":"ro","type":"quantitative","scale":{"type":"linear","domain":[0,1053],"range":[0,1053]}},"radius2":{"field":"ri"},"color":{"field":"res","type":"nominal","legend":null,"scale":{"domain":["180D","181R","182L","183E","184V","185C","186R","187E","188Y","189Q","190R","191G","192N","193C","194N","195R","196G","197E","198N","199D","200C","201R","202F","203A","204H","205P","206A"],"range":["#00e5ff","#00e5ff","#00e5ff","#00cde6","#00c0dd","#ff0000","#00cde8","#25b9d4","#c06678","#00e5ff","#00cde0","#bf6475","#00e5ff","#ff0000","#00cfea","#68a8c0","#d6505f","#00cde8","#00cde8","#00c4df","#ff0000","#00cfe8","#c06678","#00cde8","#ff0000","#25b9d4","#00e5ff"]}}}},
{"data":{"name":"rings"},"transform":[{"calculate":"datum.idx+0.015","as":"t0"},{"calculate":"datum.idx+0.985","as":"t1"},{"calculate":"882","as":"ro"},{"calculate":"882-datum.r2","as":"rin"}],"mark":{"type":"arc"},"encoding":{"theta":{"field":"t0","type":"quantitative","stack":null,"scale":{"domain":[0,27],"range":[0,6.283185]}},"theta2":{"field":"t1"},"radius":{"field":"ro","type":"quantitative","scale":{"type":"linear","domain":[0,1053],"range":[0,1053]}},"radius2":{"field":"rin"},"color":{"condition":{"test":"datum.r2<3","value":"#aaaaaa"},"value":"#4d4d4d"}}},
{"data":{"name":"rings"},"transform":[{"calculate":"datum.idx+0.012","as":"t0"},{"calculate":"datum.idx+0.988","as":"t1"},{"calculate":"752+datum.r3","as":"rout"},{"calculate":"752","as":"ri"}],"mark":{"type":"arc"},"encoding":{"theta":{"field":"t0","type":"quantitative","stack":null,"scale":{"domain":[0,27],"range":[0,6.283185]}},"theta2":{"field":"t1"},"radius":{"field":"rout","type":"quantitative","scale":{"type":"linear","domain":[0,1053],"range":[0,1053]}},"radius2":{"field":"ri"},"color":{"condition":{"test":"datum.r3<2","value":"#aaaaaa"},"value":"#4d4d4d"}}},
{"data":{"name":"rings"},"transform":[{"calculate":"datum.idx+0.494","as":"t0"},{"calculate":"datum.idx+0.506","as":"t1"},{"calculate":"945","as":"ro"},{"calculate":"920","as":"ri"}],"mark":{"type":"arc","fill":"#f7b3a3"},"encoding":{"theta":{"field":"t0","type":"quantitative","stack":null,"scale":{"domain":[0,27],"range":[0,6.283185]}},"theta2":{"field":"t1"},"radius":{"field":"ro","type":"quantitative","scale":{"type":"linear","domain":[0,1053],"range":[0,1053]}},"radius2":{"field":"ri"}}},
{"data":{"name":"rings"},"transform":[{"filter":"datum.idx<14"},{"calculate":"datum.idx+0.5","as":"tc"},{"calculate":"957","as":"rl"},{"calculate":"(datum.idx+0.5)*360/27-90","as":"ang"}],"mark":{"type":"text","align":"left","baseline":"middle","font":"Liberation Sans","fontSize":36,"color":"#111111"},"encoding":{"theta":{"field":"tc","type":"quantitative","scale":{"domain":[0,27],"range":[0,6.283185]}},"radius":{"field":"rl","type":"quantitative","scale":{"type":"linear","domain":[0,1053],"range":[0,1053]}},"angle":{"field":"ang","type":"quantitative","scale":null},"text":{"field":"res"}}},
{"data":{"name":"rings"},"transform":[{"filter":"datum.idx>=14"},{"calculate":"datum.idx+0.5","as":"tc"},{"calculate":"957","as":"rl"},{"calculate":"(datum.idx+0.5)*360/27-270","as":"ang"}],"mark":{"type":"text","align":"right","baseline":"middle","font":"Liberation Sans","fontSize":36,"color":"#111111"},"encoding":{"theta":{"field":"tc","type":"quantitative","scale":{"domain":[0,27],"range":[0,6.283185]}},"radius":{"field":"rl","type":"quantitative","scale":{"type":"linear","domain":[0,1053],"range":[0,1053]}},"angle":{"field":"ang","type":"quantitative","scale":null},"text":{"field":"res"}}}
]},
{"bounds":"flush","spacing":208,"resolve":{"scale":{"color":"independent","stroke":"independent","size":"independent","shape":"independent"},"legend":{"color":"independent","stroke":"independent"}},"vconcat":[
{"width":1411,"height":1008,
"title":{"text":"B","anchor":"start","frame":"group","dx":-203,"dy":271,"offset":0,"baseline":"alphabetic","font":"Liberation Sans","fontWeight":"bold","fontSize":103,"color":"#000"},
"data":{"name":"logo"},
"encoding":{"x":{"field":"res","type":"nominal","title":null,"scale":{"domain":["180D","181R","182L","183E","184V","185C","186R","187E","188Y","189Q","190R","191G","192N","193C","194N","195R","196G","197E","198N","199D","200C","201R","202F","203A","204H","205P","206A"],"range":[5.5,1411],"paddingInner":0,"paddingOuter":0},"axis":{"domain":false,"ticks":false,"labelAngle":-45,"labelAlign":"right","labelBaseline":"middle","labelFont":"Liberation Sans","labelFontSize":35,"labelColor":"#333333","labelPadding":24}}},
"layer":[
{"transform":[{"filter":"!datum.g && datum.y1-datum.y0<0.1"}],"mark":{"type":"bar","width":50},"encoding":{"y":{"field":"y0","type":"quantitative","scale":{"domain":[-0.4,4.96],"range":[1008,40.7],"nice":false,"zero":false},"axis":{"values":[-0.2,0,0.2,0.4,0.6,0.8,1,1.2,1.4,1.6,1.8,2,2.2,2.4,2.6,2.8,3,3.2,3.4,3.6,3.8,4,4.2,4.4,4.6,4.8],"labelExpr":"(abs(datum.value-round(datum.value))<0.01 && datum.value>=0) ? format(datum.value,'.1f') : ''","tickSize":{"condition":{"test":"abs(datum.value-round(datum.value))<0.01","value":18},"value":10},"tickColor":"#555555","tickWidth":2,"domainColor":"#555555","domainWidth":3,"offset":-5.5,"labelFont":"DejaVu Sans","labelFontSize":30,"labelColor":"#444444","labelPadding":4,"title":"Bits","titleFont":"Liberation Sans","titleFontWeight":"normal","titleFontSize":34,"titleColor":"#444444","titlePadding":22}},"y2":{"field":"y1"},"color":{"field":"l","type":"nominal","legend":null,"scale":{"domain":["A","C","F","I","L","M","P","V","W","D","E","H","K","R","G","N","Q","S","T","Y"],"range":["#000000","#000000","#000000","#000000","#000000","#000000","#000000","#000000","#000000","#ff0000","#ff0000","#0000ff","#0000ff","#0000ff","#00d100","#00d100","#00d100","#00d100","#00d100","#00d100"]}},"opacity":{"condition":{"test":"datum.y1<=0","value":0.45},"value":0.75}}},
{"mark":{"type":"rule","stroke":"#555555","strokeWidth":2},"encoding":{"x":null,"y":{"datum":0,"type":"quantitative"}}},
{"transform":[{"filter":"!datum.g && datum.y1-datum.y0>=0.1"},{"calculate":"datum.y1-datum.y0","as":"h"}],"mark":{"type":"text","font":"DejaVu Sans","fontWeight":"bold","align":"center","baseline":"alphabetic"},"encoding":{"y":{"field":"y0","type":"quantitative"},"text":{"field":"l"},"size":{"field":"h","type":"quantitative","legend":null,"scale":{"domain":[0,0.22],"range":[0,66],"clamp":true}},"color":{"field":"l","type":"nominal","legend":null}}},
{"transform":[{"filter":"datum.g"},{"calculate":"(datum.y0+datum.y1)/2","as":"mid"}],"mark":{"type":"point","filled":true,"size":4,"opacity":1},"encoding":{"y":{"field":"mid","type":"quantitative"},"color":{"field":"l","type":"nominal","legend":null},"shape":{"field":"g","type":"nominal","legend":null,"scale":{"domain":["C","G1","G2","F1","F2","Y1","Y2","Y3","H","W"],"range":[
"M26,-147C26,-350 14,-447 0,-447C-16,-447 -26,-250 -26,0C-26,250 -16,447 0,447C14,447 26,350 26,127L14,127C14,230 8,296 0,296C-8,296 -13,150 -13,0C-13,-150 -8,-299 0,-299C8,-299 14,-230 14,-147Z",
"M26,-75C26,-160 14,-208 0,-208C-16,-208 -26,-110 -26,0C-26,110 -16,208 0,208C10,208 20,200 26,194L26,-19L0,-19L0,47L14,47L14,80C14,115 8,139 0,139C-7,139 -11,70 -11,0C-11,-70 -7,-138 0,-138C8,-138 14,-110 14,-75Z",
"M26,-90C26,-190 14,-253 0,-253C-16,-253 -26,-130 -26,0C-26,130 -16,253 0,253C10,253 20,245 26,235L26,-24L0,-24L0,60L14,60L14,100C14,140 8,176 0,176C-7,176 -11,90 -11,0C-11,-90 -7,-167 0,-167C8,-167 14,-130 14,-90Z",
"M-25,-126L25,-126L25,-84L-11,-84L-11,-26L21,-26L21,18L-11,18L-11,126L-25,126Z",
"M-26,-175L26,-175L26,-117L-11,-117L-11,-36L23,-36L23,24L-11,24L-11,175L-26,175Z",
"M-25,-73L-10,-73L0,-19L10,-73L25,-73L7,7L7,73L-7,73L-7,7Z",
"M-26,-66L-11,-66L0,-15L11,-66L26,-66L7,8L7,66L-7,66L-7,8Z",
"M-24,-38L-9,-38L0,-10L9,-38L24,-38L6,5L6,38L-6,38L-6,5Z",
"M-26,-431L-13,-431L-13,-108L13,-108L13,-431L26,-431L26,431L13,431L13,39L-13,39L-13,431L-26,431Z",
"M-26,-31L-17,-31L-10,18L-3,-31L3,-31L10,18L17,-31L26,-31L14,31L6,31L0,-12L-6,31L-14,31Z"
]}}}}
]},
{"width":1415,"height":648.6,
"title":{"text":"C","anchor":"start","frame":"group","dx":-203,"dy":136,"offset":0,"baseline":"alphabetic","font":"Liberation Sans","fontWeight":"bold","fontSize":103,"color":"#000"},
"encoding":{"x":{"field":"res","type":"nominal","scale":{"domain":["180D","181R","182L","183E","184V","185C","186R","187E","188Y","189Q","190R","191G","192N","193C","194N","195R","196G","197E","198N","199D","200C","201R","202F","203A","204H","205P","206A"],"paddingInner":0,"paddingOuter":0},"axis":{"tickBand":"extent","tickSize":12,"tickWidth":3,"tickColor":"#222222","domainColor":"#222222","domainWidth":3,"labelAngle":-45,"labelAlign":"right","labelBaseline":"middle","labelFont":"Liberation Sans","labelFontSize":35,"labelColor":"#333333","labelPadding":20,"title":"Residue","titleFont":"Liberation Sans","titleFontWeight":"bold","titleFontSize":34,"titleColor":"#222222","titlePadding":32}}},
"layer":[
{"data":{"name":"mi"},"transform":[{"fold":["cMI","pMI"],"as":["key","value"]}],"mark":{"type":"bar","width":16},"encoding":{"y":{"field":"value","type":"quantitative","stack":"zero","scale":{"domain":[0,1000],"nice":false},"axis":{"values":[0,100,200,300,400,500,600,700,800,900,1000],"format":"d","tickSize":13,"tickWidth":3,"tickColor":"#222222","domainColor":"#222222","domainWidth":3,"labelFont":"DejaVu Sans","labelFontSize":30,"labelColor":"#333333","labelPadding":23,"title":"Mututal Information","titleFont":"Liberation Sans","titleFontWeight":"normal","titleFontSize":36,"titleColor":"#222222","titlePadding":19}},"color":{"field":"key","type":"nominal","scale":{"domain":["cMI","pMI"],"range":["#1573c9","#fc7d22"]},"legend":{"orient":"none","legendX":344,"legendY":874,"direction":"horizontal","title":null,"symbolType":"M-1,-0.28H1V0.28H-1Z","symbolSize":6400,"labelFont":"DejaVu Sans","labelFontSize":32,"labelColor":"#666666","labelOffset":12,"columnPadding":47}},"order":{"field":"key"}}},
{"data":{"name":"mi"},"mark":{"type":"line","color":"#000000","strokeWidth":5},"encoding":{"y":{"field":"cons","type":"quantitative","scale":{"domain":[0,6],"nice":false},"axis":{"orient":"right","values":[0,1,2,3,4,5,6],"tickSize":13,"tickWidth":3,"tickColor":"#222222","domainColor":"#222222","domainWidth":3,"labelFont":"DejaVu Sans","labelFontSize":30,"labelColor":"#333333","labelPadding":25,"title":"Conservation","titleFont":"Liberation Sans","titleFontWeight":"bold","titleFontSize":34,"titleColor":"#222222","titlePadding":18}},"stroke":{"datum":"Conservation","type":"nominal","scale":{"domain":["Conservation"],"range":["#000000"]},"legend":{"orient":"none","legendX":732,"legendY":874,"title":null,"symbolType":"M-1,0H1M0.28,0A0.28,0.28 0 1 1 -0.28,0A0.28,0.28 0 1 1 0.28,0Z","symbolSize":6400,"symbolStrokeWidth":5,"symbolFillColor":"#000000","labelFont":"DejaVu Sans","labelFontSize":32,"labelColor":"#666666","labelOffset":12,"labelLimit":500}}}},
{"data":{"name":"mi"},"mark":{"type":"point","filled":true,"color":"#000000","size":480,"opacity":1},"encoding":{"y":{"field":"cons","type":"quantitative","scale":{"domain":[0,6],"nice":false},"axis":null}}},
{"data":{"name":"arrows"},"mark":{"type":"rule","strokeWidth":9},"encoding":{"y":{"field":"top","type":"quantitative","scale":{"domain":[0,1000],"nice":false},"axis":null},"y2":{"field":"base"},"color":{"field":"kind","type":"nominal","legend":null,"scale":{"domain":["conserved","coevolving"],"range":["#000000","#1573c9"]}}}},
{"data":{"name":"arrows"},"transform":[{"calculate":"(datum.base+datum.tip)/2","as":"head"}],"mark":{"type":"point","shape":"triangle-down","filled":true,"size":600,"opacity":1},"encoding":{"y":{"field":"head","type":"quantitative","scale":{"domain":[0,1000],"nice":false},"axis":null},"color":{"field":"kind","type":"nominal","legend":null,"scale":{"domain":["conserved","coevolving"],"range":["#000000","#1573c9"]}}}}
],
"resolve":{"scale":{"y":"independent","color":"independent"},"axis":{"y":"independent"}}}
]}
]}
